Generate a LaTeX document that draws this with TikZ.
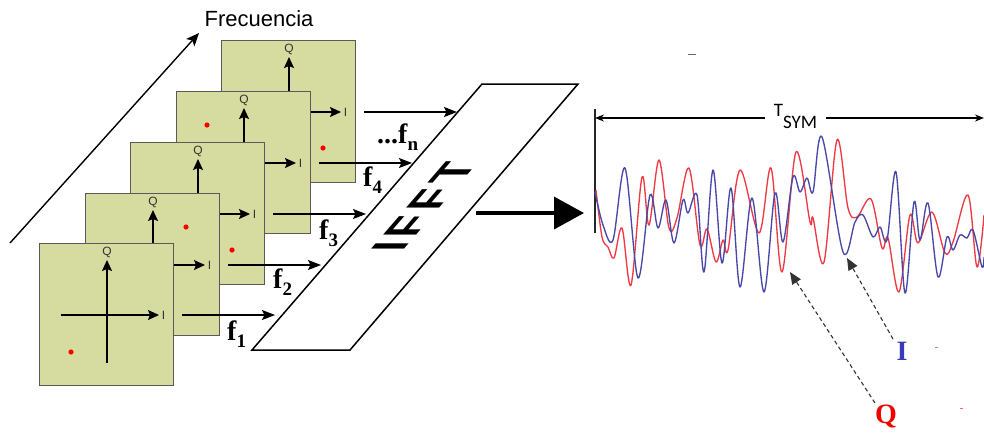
\documentclass[tikz,border=0pt]{standalone}
\usepackage{fontspec}
\setmainfont{Liberation Serif}
\setsansfont{Liberation Sans}
\newfontfamily\calib{Carlito}
\usetikzlibrary{arrows.meta}
\definecolor{sqfill}{HTML}{D6DBA0}
\definecolor{sqedge}{HTML}{5A5A5A}
\definecolor{wblue}{HTML}{4848A8}
\definecolor{wred}{HTML}{EE3A44}
\definecolor{lblue}{HTML}{3A3AB8}
\definecolor{lred}{HTML}{F20000}
\newcommand\fsub[1]{\raisebox{-7pt}{\fontsize{19}{19}\selectfont #1}}
\newcommand\cellsq[5]{%
  \node[sqbox, anchor=north west] (#1) at (#2,#3) {};
  \coordinate (#1vb) at ({#2+68},{#3+120});
  \coordinate (#1vt) at ({#2+68},{#3+17});
  \coordinate (#1hl) at ({#2+22},{#3+72});
  \coordinate (#1hr) at ({#2+120},{#3+72});
  \draw[axisarr] (#1vb) -- (#1vt);
  \draw[axisarr] (#1hl) -- (#1hr);
  \node[axlab] (#1q) at ({#2+68},{#3+9}) {Q};
  \node[axlab] (#1i) at ({#2+124.5},{#3+72}) {I};
  \fill[red] (#4,#5) circle (2.6pt);
  \coordinate (#1os) at ({#2+143},{#3+72});
  \coordinate (#1oe) at ({#2+236},{#3+72});
}
\begin{document}
\begin{tikzpicture}[x=1pt,y=-1pt,
  sqbox/.style={draw=sqedge, fill=sqfill, line width=0.9pt, inner sep=0pt,
    minimum width=134pt, minimum height=142pt},
  axisarr/.style={line width=1.3pt, -{Stealth[length=11pt,width=10pt,inset=2pt]}},
  axlab/.style={font=\sffamily\fontsize{12}{12}\selectfont, text=black!80, inner sep=0pt},
  outarr/.style={line width=1.2pt, -{Stealth[length=13pt,width=10pt,inset=2.5pt]}},
  flab/.style={font=\bfseries\fontsize{28}{28}\selectfont, anchor=base west, inner sep=0pt},
  wave/.style={line width=1.35pt, line join=round},
  dasharr/.style={dashed, dash pattern=on 4pt off 3pt, line width=1.1pt, black!80,
    -{Triangle[length=12pt,width=10pt]}}
]
\useasboundingbox (0,0) rectangle (984,432);

% frequency axis
\coordinate (ftail) at (10,243);
\coordinate (fhead) at (199,33);
\draw[line width=1.4pt, -{Stealth[length=13pt,width=11pt,inset=3pt]}] (ftail) -- (fhead);
\node[font=\sffamily\fontsize{22}{22}\selectfont, inner sep=0pt] (freq) at (259,19) {Frecuencia};

% stacked constellation squares (back to front)
\cellsq{s5}{221}{40}{323}{148}
\cellsq{s4}{176}{91}{207}{125}
\cellsq{s3}{130}{142}{232}{250}
\cellsq{s2}{85}{193}{186}{227}
\cellsq{s1}{39}{243}{71}{352}

% output arrows
\draw[outarr] (s1os) -- (s1oe);
\draw[outarr] (s2os) -- (s2oe);
\draw[outarr] (s3os) -- (s3oe);
\draw[outarr] (s4os) -- (s4oe);
\draw[outarr] (s5os) -- (s5oe);

% frequency labels
\node[flab] (f1) at (227,340) {f\fsub{1}};
\node[flab] (f2) at (273,288) {f\fsub{2}};
\node[flab] (f3) at (319,239) {f\fsub{3}};
\node[flab] (f4) at (363,186) {f\fsub{4}};
\node[flab] (fn) at (377,143) {...f\fsub{n}};

% IFFT plane
\coordinate (pbl) at (252,350);
\coordinate (ptl) at (482,84);
\coordinate (ptr) at (578,84);
\coordinate (pbr) at (350,350);
\draw[line width=1.5pt, line join=miter] (pbl) -- (ptl) -- (ptr) -- (pbr) -- cycle;
\begin{scope}[shift={(402,252)}, cm={0.654,0.757,-1,0,(0,0)}]
  \node[transform shape, anchor=base west, inner sep=0pt,
    font=\sffamily\bfseries\fontsize{48}{48}\selectfont] (ifft) at (0,0)
    {I\kern6pt F\kern6pt F\kern6pt T};
\end{scope}

% big arrow
\coordinate (bigs) at (476,213);
\coordinate (bige) at (584,213);
\draw[line width=3.5pt, -{Triangle[length=30pt,width=32pt]}] (bigs) -- (bige);

% time axis
\coordinate (vtop) at (595,109);
\coordinate (vbot) at (595,233);
\draw[line width=1.3pt, black!85] (vtop) -- (vbot);
\coordinate (tl) at (595,118);
\coordinate (tr) at (984,118);
\draw[line width=1.2pt, {Stealth[length=9pt,width=7pt]}-{Stealth[length=9pt,width=7pt]}] (tl) -- (tr);
\node[anchor=base, fill=white, inner xsep=9pt, inner ysep=1pt,
  font=\calib\fontsize{19}{19}\selectfont] (tsym) at (795.5,116) {T\raisebox{-12pt}{SYM}};

% waveforms
\draw[wave, wred] plot[smooth, tension=0.55] coordinates {
(596,190) (602,237) (608,247) (614,258) (622,228) (631,285) (642,177) (649,225)
(659,160) (669,228) (677,218) (689,168) (700,245) (707,229) (716,262) (723,240)
(728,250) (740,170) (759,233) (771,168) (782,272) (796,152) (810,222) (813,218)
(824,262) (837,140) (848,208) (857,217) (871,199) (882,248) (888,238) (899,292)
(910,215) (918,243) (932,212) (945,253) (953,242) (968,195) (977,267) (984,215)};
\draw[wave, wblue] plot[smooth, tension=0.55] coordinates {
(595,192) (603,225) (613,240) (625,168) (638,278) (650,195) (658,228) (666,200)
(674,243) (683,200) (688,213) (697,195) (704,272) (713,170) (722,263) (731,188)
(740,287) (752,198) (764,292) (775,193) (783,242) (793,177) (800,192) (807,178)
(813,192) (822,137) (843,252) (855,222) (863,215) (873,237) (880,227) (887,240)
(896,172) (905,293) (914,202) (920,240) (928,203) (938,277) (947,237) (953,250)
(960,235) (967,238) (973,230) (982,267) (984,257)};

% I and Q labels with dashed pointers
\node[font=\bfseries\fontsize{28}{28}\selectfont, text=lblue, anchor=base, inner sep=0pt] (ilab) at (902,360) {I};
\node[font=\bfseries\fontsize{28}{28}\selectfont, text=lred, anchor=base, inner sep=0pt] (qlab) at (886,423) {Q};
\coordinate (itip) at (847,258);
\coordinate (qtip) at (790,272);
\coordinate (istart) at (893,339);
\coordinate (qstart) at (875,403);
\draw[dasharr] (istart) -- (itip);
\draw[dasharr] (qstart) -- (qtip);

% small stray marks
\draw[line width=1pt, black!60] (688,54) -- (696,54);
\draw[line width=1pt, lblue!60] (935,347) -- (938,347);
\draw[line width=1pt, lred!60] (960,408) -- (963,408);
\end{tikzpicture}
\end{document}
